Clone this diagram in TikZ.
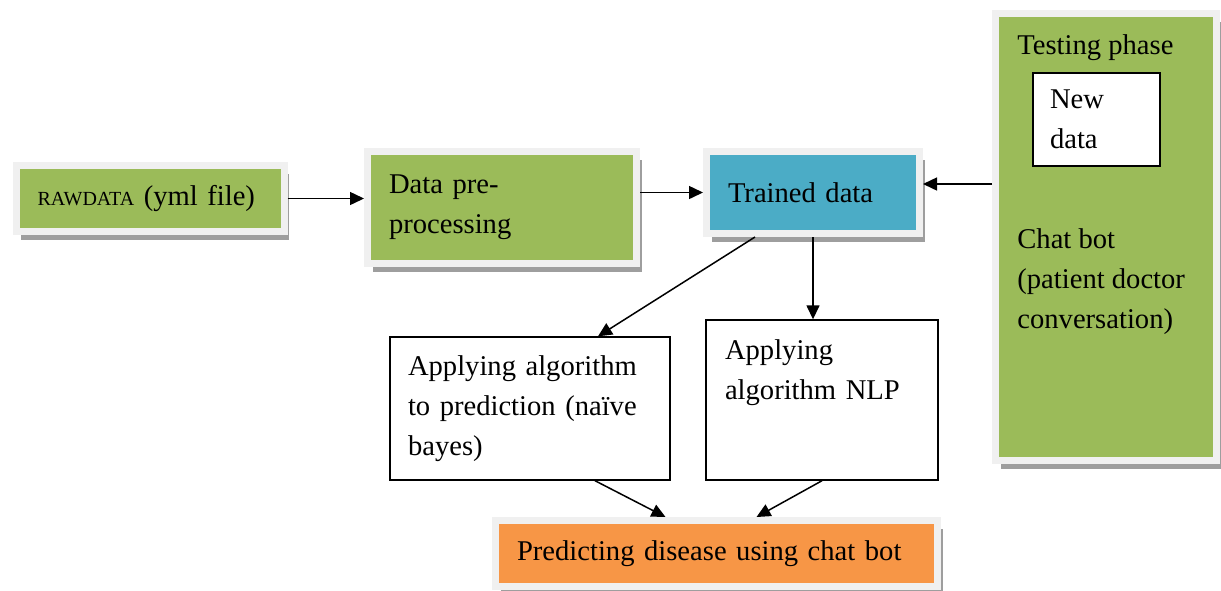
\documentclass[tikz,border=0pt]{standalone}
\usepackage{fontspec}
\setmainfont{Liberation Serif}
\usetikzlibrary{arrows.meta, shadows}
\definecolor{stagegreen}{HTML}{9BBB59}
\definecolor{stageblue}{HTML}{4BACC6}
\definecolor{stageorange}{HTML}{F79646}
\definecolor{stageframe}{HTML}{F0F0F0}

\begin{document}
\begin{tikzpicture}[x=0.5pt, y=-0.5pt,
    font=\fontsize{14.3}{20}\selectfont,
    stagebox/.style={draw=stageframe, line width=3.5pt, inner xsep=10.75pt,
      inner ysep=0pt, align=left,
      drop shadow={shadow xshift=2.5pt, shadow yshift=-4.25pt,
        fill=black!38, opacity=1}},
    plainbox/.style={draw=black, line width=0.7pt, fill=white, inner xsep=9pt,
      inner ysep=0pt, align=left},
    label/.style={inner sep=0pt, align=left},
    arr/.style={-{Triangle[length=7pt, width=6.5pt]}, line width=0.75pt}]
  \useasboundingbox (0,0) rectangle (1221,590);
  % ---------- training chain ----------
  \node[stagebox, fill=stagegreen, minimum width=134pt, minimum height=33pt,
    text width=112.5pt] (raw) at (150,198.5)
    {{\fontsize{10}{12}\selectfont RAWDATA} (yml file)};
  \node[stagebox, fill=stagegreen, minimum width=134.5pt, minimum height=56pt,
    text width=113pt] (pre) at (502,207.5) {Data pre-\\processing};
  \node[stagebox, fill=stageblue, minimum width=106.5pt, minimum height=41pt,
    text width=85pt] (trained) at (813,192.5) {Trained data};
  % ---------- testing phase ----------
  \node[stagebox, fill=stagegreen, minimum width=110.5pt,
    minimum height=223.5pt] (testing) at (1106,237) {};
  \node[label, anchor=west] (phase) at (1017,48) {Testing phase};
  \node[plainbox, line width=0.6pt, inner xsep=8.5pt, minimum width=63.5pt,
    minimum height=46.5pt, text width=46.5pt] (newdata) at (1096.5,119.5)
    {New\\data};
  \node[label, anchor=west] (chatbot) at (1017,282)
    {Chat bot\\(patient doctor\\conversation)};
  % ---------- algorithms ----------
  \node[plainbox, minimum width=140pt, minimum height=71.5pt,
    text width=122pt] (algo) at (530,408.5)
    {Applying algorithm\\to prediction (na\"{\i}ve\\bayes)};
  \node[plainbox, inner xsep=9.5pt, minimum width=116pt, minimum height=80pt,
    text width=97pt, text depth=50pt] (nlp) at (822,400)
    {Applying\\algorithm NLP};
  % ---------- result ----------
  \node[stagebox, fill=stageorange, minimum width=221pt, minimum height=33pt,
    text width=199.5pt] (predict) at (716.5,553.5)
    {Predicting disease using chat bot};
  % connectors
  \draw[arr] (raw.east) -- (raw.east -| pre.west);
  \draw[arr] (trained.west -| pre.east) -- (trained.west);
  \draw[arr] ([yshift=4.25pt]trained.east -| testing.west)
    -- ([yshift=4.25pt]trained.east);
  \draw[arr] ([xshift=-29pt]trained.south) -- ([xshift=34pt]algo.north);
  \draw[arr] (trained.south) -- (trained.south |- nlp.north);
  \draw[arr] ([xshift=32.5pt]algo.south) -- ([xshift=-25.5pt]predict.north);
  \draw[arr] (nlp.south) -- ([xshift=20pt]predict.north);
\end{tikzpicture}
\end{document}
